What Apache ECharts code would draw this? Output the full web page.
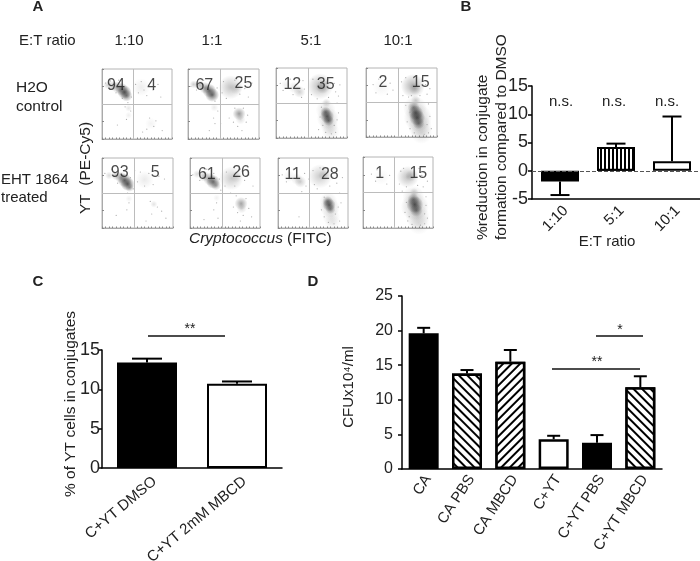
<!DOCTYPE html>
<html><head><meta charset="utf-8">
<style>html,body{margin:0;padding:0;background:#fff}#c{width:700px;height:561px}</style>
<script src="https://cdn.jsdelivr.net/npm/echarts@6/dist/echarts.min.js"></script>
</head><body><div id="c"></div>
<script>
// ---- Panel B data
const bCats = ['1:10', '5:1', '10:1'];
const bValues = [-1.9, 4.2, 1.7];
const bErrors = [-4.3, 4.8, 9.6];
// ---- Panel C data
const cCats = ['C+YT DMSO', 'C+YT 2mM MBCD'];
const cValues = [13.4, 10.7];
const cErrors = [13.9, 11.0];
// ---- Panel D data
const dCats = ['CA', 'CA PBS', 'CA MBCD', 'C+YT', 'C+YT PBS', 'C+YT MBCD'];
const dValues = [19.6, 13.8, 15.5, 4.3, 3.8, 11.8];
const dErrors = [20.4, 14.3, 17.2, 4.8, 4.9, 13.4];
// ---- Panel A data: ratio headers, quadrant percents [upper-left, upper-right]
const ratios = ['1:10', '1:1', '5:1', '10:1'];
const pct1 = [94, 4], pct2 = [67, 25], pct3 = [12, 35], pct4 = [2, 15];
const pct5 = [93, 5], pct6 = [61, 26], pct7 = [11, 28], pct8 = [1, 15];
// gate positions (percent of each axis)
const gateX = [44, 45, 45, 45, 45, 46, 44, 44];
const gateY = [50, 50, 50, 50, 50, 50, 50, 51];
// dense populations: [x, y, extent, density]
const dense1 = [[8,77,8,.22],[15,76,10,.3],[22,74,12,.4],[28,71,13,.6],[32,67,14,.8],[35,62,12,.6],[38,44,7,.12],[38,34,7,.08],[56,74,18,.09],[70,22,12,.06]];
const dense2 = [[8,78,8,.25],[16,77,10,.35],[24,73,12,.45],[30,69,14,.7],[34,63,14,.75],[37,45,8,.1],[60,74,24,.3],[68,72,12,.14],[72,36,13,.5],[74,28,10,.16]];
const dense3 = [[14,76,10,.08],[26,72,12,.14],[33,66,12,.24],[62,74,26,.34],[66,73,14,.3],[70,37,11,.6],[72,31,14,.8],[74,25,11,.65],[70,40,20,.16],[73,28,22,.22],[75,18,18,.16],[77,9,18,.12],[71,50,9,.2]];
const dense4 = [[22,72,18,.05],[66,74,24,.4],[69,70,12,.22],[67,43,12,.5],[70,35,15,.8],[72,28,16,.85],[74,20,12,.6],[69,42,24,.2],[73,28,28,.26],[76,15,24,.22],[78,6,22,.14],[70,53,10,.22]];
const dense5 = [[10,75,8,.18],[20,75,10,.3],[27,72,12,.45],[32,68,14,.7],[36,63,14,.8],[39,58,9,.4],[38,42,7,.08],[60,69,18,.1],[73,34,7,.14]];
const dense6 = [[10,77,8,.18],[20,74,11,.3],[28,70,13,.45],[33,66,14,.7],[37,61,10,.4],[38,43,7,.07],[59,71,24,.26],[66,73,12,.12],[73,35,13,.45],[74,28,10,.18]];
const dense7 = [[16,74,12,.08],[27,70,12,.14],[32,66,12,.24],[60,74,24,.26],[66,76,12,.18],[71,38,11,.55],[73,33,13,.75],[75,27,10,.5],[72,38,18,.16],[74,29,20,.2],[76,16,18,.12],[78,8,16,.08]];
const dense8 = [[26,72,16,.05],[64,72,22,.32],[69,74,12,.22],[73,50,9,.22],[72,40,12,.55],[74,33,17,.85],[76,25,13,.6],[72,44,22,.18],[74,30,28,.26],[78,16,24,.2],[80,6,22,.12]];
// sparse events: [x, y]
const sparse1 = [[5,80],[12,83],[20,66],[24,84],[29,58],[37,52],[33,46],[41,40],[35,28],[42,60],[48,78],[52,66],[56,82],[60,70],[64,62],[67,76],[73,70],[80,78],[68,30],[74,18],[77,26],[64,14],[86,12],[58,10],[22,20],[84,60]];
const sparse2 = [[4,75],[12,70],[22,84],[41,73],[38,54],[42,40],[36,30],[48,66],[50,82],[54,58],[66,84],[73,64],[80,72],[85,60],[66,44],[78,44],[64,24],[70,18],[82,24],[76,12],[84,34],[58,30],[30,12],[90,80],[38,22],[46,22]];
const sparse3 = [[6,78],[10,68],[20,84],[24,62],[36,58],[40,70],[38,82],[50,62],[52,84],[58,56],[74,58],[82,78],[84,66],[86,50],[88,36],[64,44],[62,30],[66,18],[82,18],[86,26],[70,8],[78,6],[84,8],[88,60],[90,76],[60,12]];
const sparse4 = [[10,76],[14,64],[18,84],[30,62],[34,78],[38,68],[50,80],[52,60],[56,86],[60,58],[76,60],[84,76],[86,62],[88,48],[90,30],[62,36],[58,22],[62,12],[86,18],[92,12],[68,6],[82,4],[88,6],[56,46],[90,70],[64,60]];
const sparse5 = [[4,78],[14,84],[22,64],[30,82],[40,72],[44,56],[36,50],[38,36],[35,26],[50,66],[54,80],[60,60],[66,78],[72,62],[80,74],[88,70],[68,38],[78,30],[70,20],[84,24],[62,10],[90,14],[20,18],[46,82]];
const sparse6 = [[4,76],[14,68],[24,84],[34,78],[42,70],[44,54],[38,36],[34,26],[50,60],[52,80],[64,60],[72,84],[78,68],[84,76],[66,46],[80,42],[68,22],[76,18],[84,28],[62,30],[72,10],[88,16],[20,12],[90,60],[40,14],[58,50]];
const sparse7 = [[6,76],[12,66],[22,84],[40,60],[38,78],[44,70],[50,82],[52,62],[56,56],[74,60],[80,78],[84,64],[88,50],[90,36],[66,44],[62,26],[66,16],[82,20],[86,30],[72,8],[80,6],[88,10],[92,72],[34,52],[60,86],[30,16]];
const sparse8 = [[12,76],[18,66],[20,82],[34,62],[38,74],[52,62],[54,80],[56,52],[62,58],[78,60],[84,74],[86,58],[90,44],[62,36],[60,22],[64,10],[88,20],[92,14],[70,5],[82,4],[88,6],[58,84],[92,66],[66,16],[90,32],[80,84]];
// label positions are layout, not data
const labelPos = [[[20,76],[71,76]],[[23,77],[78,79]],[[23,76],[70,77]],[[24,79],[77,79]],[[25,79],[75,79]],[[24,77],[73,79]],[[21,77],[74,77]],[[24,76],[79,76]]];

const pctAll = [pct1,pct2,pct3,pct4,pct5,pct6,pct7,pct8];
const denseAll = [dense1,dense2,dense3,dense4,dense5,dense6,dense7,dense8];
const sparseAll = [sparse1,sparse2,sparse3,sparse4,sparse5,sparse6,sparse7,sparse8];
const rects = [[102,69,70,70],[188,69,71,70],[276,68,71,70],[366,68,71,69],[102,158,71,70],[190,158,70,70],[278,158,70,70],[363,157,70,71]];

const FONT = '"Liberation Sans", Arial, sans-serif';
const grid = [], xAxis = [], yAxis = [], series = [];

rects.forEach((r, i) => {
  grid.push({left:r[0], top:r[1], width:r[2], height:r[3], outerBoundsMode:'none', show:true, borderColor:'#b4b4b4', borderWidth:1, backgroundColor:'#fff'});
  const ax = {min:0, max:100, gridIndex:i, axisLabel:{show:false}, splitLine:{show:false},
    axisLine:{show:true, lineStyle:{color:'#aaa', width:1}}};
  xAxis.push({...ax, type:'value', interval:5, axisTick:{show:true, inside:true, length:1.5, lineStyle:{color:'#888'}}});
  yAxis.push({...ax, type:'value', interval:25, axisTick:{show:true, inside:true, length:2, lineStyle:{color:'#888'}}});
  series.push({type:'scatter', xAxisIndex:i, yAxisIndex:i, silent:true, z:2,
    data:denseAll[i],
    symbolSize:v => v[2],
    itemStyle:{opacity:1, color:p => new echarts.graphic.RadialGradient(.5,.5,.5,[
      {offset:0, color:'rgba(55,55,55,'+p.value[3]+')'},
      {offset:1, color:'rgba(55,55,55,0)'}])}});
  series.push({type:'scatter', xAxisIndex:i, yAxisIndex:i, silent:true, z:3,
    data:sparseAll[i], symbolSize:1.2, itemStyle:{color:'#8a8a8a', opacity:.7},
    markLine:{silent:true, symbol:'none', animation:false, label:{show:false},
      lineStyle:{color:'#bcbcbc', width:1, type:'solid'},
      data:[{xAxis:gateX[i]},{yAxis:gateY[i]}]}});
  series.push({type:'scatter', xAxisIndex:i, yAxisIndex:i, silent:true, z:5,
    data:pctAll[i].map((v,k) => ({value:[labelPos[i][k][0], labelPos[i][k][1]], name:String(v)})),
    symbolSize:0,
    label:{show:true, position:'inside', formatter:p => p.name, fontFamily:FONT, fontSize:16, color:'#1a1a1a'}});
});

function barPanel(o){
  const i = grid.length;
  grid.push({left:o.left, top:o.top, width:o.width, height:o.height, outerBoundsMode:'none'});
  xAxis.push({type:'category', gridIndex:i, data:o.cats,
    axisLine:{onZero:false, lineStyle:{color:'#000', width:1.5}},
    axisTick:{alignWithLabel:true, length:4, lineStyle:{color:'#000', width:1.5}},
    axisLabel:{rotate:o.rot, interval:0, margin:o.xMargin, padding:[0,-o.shift,0,0], fontFamily:FONT, fontSize:o.lfs, color:'#222'}});
  yAxis.push({type:'value', gridIndex:i, min:o.min, max:o.max, interval:o.step, splitLine:{show:false},
    axisLine:{show:true, lineStyle:{color:'#000', width:1.5}},
    axisTick:{show:true, length:o.tick, lineStyle:{color:'#000', width:1.5}},
    axisLabel:{margin:o.yMargin, fontFamily:FONT, fontSize:o.fs, color:'#222'}});
  series.push({type:'bar', xAxisIndex:i, yAxisIndex:i, barWidth:o.barW, silent:true, z:3,
    data:o.vals.map((v,k) => ({value:v, itemStyle:Object.assign({borderColor:'#000', borderWidth:o.lw}, o.styles[k])})),
    ...(o.extra||{})});
  series.push({type:'custom', xAxisIndex:i, yAxisIndex:i, silent:true, z:2,
    encode:{x:0, y:2},
    data:o.vals.map((v,k) => [k, v, o.errs[k]]),
    renderItem:(p, api) => {
      const a = api.coord([api.value(0), api.value(1)]);
      const b = api.coord([api.value(0), api.value(2)]);
      const st = {stroke:'#000', lineWidth:2, fill:'none'};
      return {type:'group', children:[
        {type:'line', shape:{x1:a[0], y1:a[1], x2:b[0], y2:b[1]}, style:st},
        {type:'line', shape:{x1:b[0]-o.capW/2, y1:b[1], x2:b[0]+o.capW/2, y2:b[1]}, style:st}]};
    }});
}

const solid = {color:'#000'}, white = {color:'#fff'};
const hatch = rot => ({color:'#fff', decal:{symbol:'rect', symbolSize:1, color:'#000', backgroundColor:'#fff',
  dashArrayX:[1,0], dashArrayY:[1.5,4], rotation:rot}});
const vstripe = {color:'#fff', decal:{symbol:'rect', symbolSize:1, color:'#000', backgroundColor:'#fff',
  dashArrayX:[2,2], dashArrayY:[1,0], rotation:0}};
const BACK = Math.PI/4, FWD = -Math.PI/4;

barPanel({left:532,top:86,width:168,height:113,cats:bCats,vals:bValues,errs:bErrors,min:-5,max:15,step:5,
  styles:[solid,vstripe,white],barW:38,capW:19,fs:18,lfs:15,rot:45,lw:2,tick:4,yMargin:4,xMargin:15,shift:8,
  extra:{markLine:{silent:true, symbol:'none', animation:false, label:{show:false}, lineStyle:{color:'#555', width:1, type:'dashed'}, data:[{yAxis:0}]}}});
barPanel({left:102,top:350,width:180,height:118,cats:cCats,vals:cValues,errs:cErrors,min:0,max:15,step:5,
  styles:[solid,white],barW:60,capW:30,fs:18,lfs:15,rot:40,lw:2,tick:3,yMargin:2,xMargin:18,shift:10});
barPanel({left:402,top:296,width:260,height:173,cats:dCats,vals:dValues,errs:dErrors,min:0,max:25,step:5,
  styles:[solid,hatch(BACK),hatch(FWD),white,solid,hatch(BACK)],barW:30,capW:13,fs:16,lfs:15,rot:57,lw:2.5,tick:4,yMargin:9,xMargin:14,shift:8});

const T = (text,x,y,fs,o={}) => ({type:'text', x, y, rotation:o.rot||0, z:50, silent:true, style:{
  text, fill:o.fill||'#222', textAlign:o.align||'center', textVerticalAlign:'middle',
  font:(o.style?o.style+' ':'')+(o.bold?'bold ':'')+fs+'px '+FONT}});
const L = (x1,x2,y) => ({type:'line', z:50, silent:true, shape:{x1,y1:y,x2,y2:y}, style:{stroke:'#111', lineWidth:1.6}});
const UP = Math.PI/2;
const headerX = [129,212,311,398];
const graphic = [
  T('A',38,7,15,{bold:true}), T('B',466,7,15,{bold:true}), T('C',38,282,15,{bold:true}), T('D',313,282,15,{bold:true}),
  T('E:T ratio',19,41,15,{align:'left'}),
  ...ratios.map((r,i) => T(r,headerX[i],41,15)),
  T('H2O',16,88,15.5,{align:'left'}), T('control',16,107,15.5,{align:'left'}),
  T('EHT 1864',1,180,15,{align:'left'}), T('treated',1,198,15,{align:'left'}),
  T('YT  (PE-Cy5)',86,168,15.5,{rot:UP}),
  T('Cryptococcus',189,239,15.5,{align:'left', style:'italic'}), T('(FITC)',287,239,15.5,{align:'left'}),
  T('%reduction in conjugate',483,240,15.5,{rot:UP, align:'left'}),
  T('formation compared to DMSO',502,240,15.5,{rot:UP, align:'left'}),
  T('E:T ratio',607,242,15),
  T('n.s.',561,102,15), T('n.s.',614,102,15), T('n.s.',667,102,15),
  T('% of YT cells in conjugates',71,404,15.5,{rot:UP}),
  L(148,225,336), T('**',190,329,14),
  T('CFUx10⁴/ml',349,387,15,{rot:UP}),
  L(596,643,336), T('*',620,330,14),
  L(552,640,369), T('**',597,362,14)
];

const chart = echarts.init(document.getElementById('c'), null, {renderer:'canvas'});
chart.setOption({animation:false, backgroundColor:'#fff', grid, xAxis, yAxis, series, graphic});
</script></body></html>
